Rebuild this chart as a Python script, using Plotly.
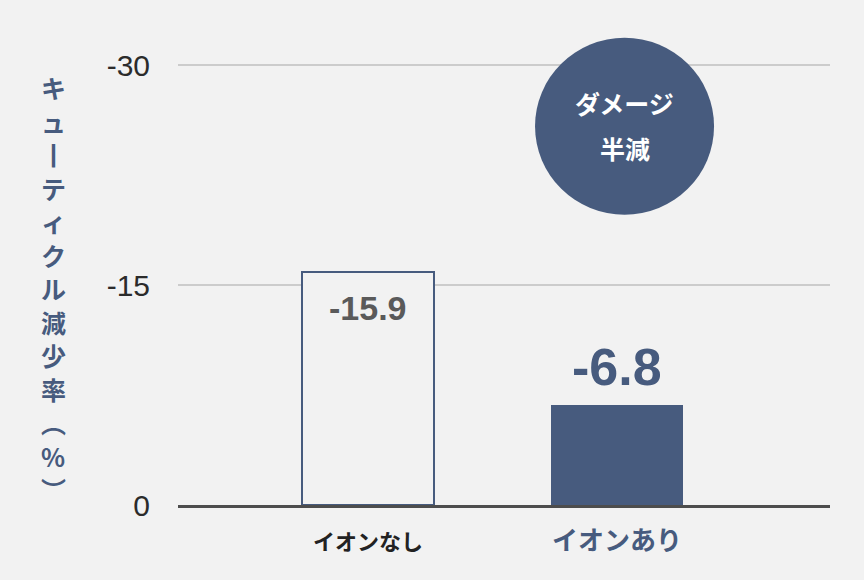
import plotly.graph_objects as go

categories = ["イオンなし", "イオンあり"]
values = [-15.9, -6.8]
value_labels = ["-15.9", "-6.8"]
y_ticks = [-30, -15, 0]
y_tick_labels = ["-30", "-15", "0"]
y_title = "キュ丨ティクル減少率︵%︶"
badge_lines = ["ダメージ", "半減"]

NAVY = "#475b7e"
BG = "#f2f2f2"
JP = "Noto Sans CJK JP"
NUM = "Liberation Sans, Arial, sans-serif"

fig = go.Figure()
fig.add_trace(go.Bar(
    x=[0], y=[values[0]], width=0.53,
    marker=dict(color=BG, line=dict(color=NAVY, width=2)),
    hoverinfo="skip", showlegend=False,
))
fig.add_trace(go.Bar(
    x=[1], y=[values[1]], width=0.53,
    marker=dict(color=NAVY, line=dict(color=NAVY, width=0)),
    hoverinfo="skip", showlegend=False,
))

# value labels
fig.add_annotation(x=0, y=values[0], text="<b>" + value_labels[0] + "</b>", showarrow=False,
                   yanchor="middle", yshift=-36,
                   font=dict(family=NUM, size=34, color="#5a5a5a"))
fig.add_annotation(x=1, y=values[1], text="<b>" + value_labels[1] + "</b>", showarrow=False,
                   yanchor="middle", yshift=38,
                   font=dict(family=NUM, size=52, color=NAVY))

# badge circle
fig.add_shape(type="circle", xref="x", yref="y",
              xsizemode="pixel", ysizemode="pixel",
              xanchor=1.03, yanchor=-25.84,
              x0=-89.5, x1=89.5, y0=-88.5, y1=88.5,
              fillcolor=NAVY, line=dict(width=0), layer="above")
fig.add_annotation(x=1.03, y=-25.84, text="<b>" + badge_lines[0] + "</b>", showarrow=False,
                   yshift=23, font=dict(family=JP, size=25, color="white"))
fig.add_annotation(x=1.03, y=-25.84, text="<b>" + badge_lines[1] + "</b>", showarrow=False,
                   yshift=-22, font=dict(family=JP, size=25, color="white"))

# vertical y-axis title (one upright character per line)
start_y = 87
step = 33.5
for i, ch in enumerate(y_title):
    yy = start_y + i * step
    fig.add_annotation(xref="paper", yref="paper",
                       x=(53 - 178) / 652, y=(580 - 75 - yy) / 469,
                       text="<b>" + ch + "</b>", showarrow=False,
                       xanchor="center", yanchor="middle",
                       font=dict(family=JP, size=25, color=NAVY))

fig.update_layout(
    width=864, height=580,
    margin=dict(l=178, r=34, t=36, b=75),
    paper_bgcolor=BG, plot_bgcolor=BG,
    bargap=0,
    xaxis=dict(
        range=[-0.763, 1.855],
        tickvals=[0, 1],
        ticktext=[
            "<b><span style='color:#222222;font-size:22px'>" + categories[0] + "</span></b>",
            "<b><span style='color:" + NAVY + ";font-size:26px'>" + categories[1] + "</span></b>",
        ],
        tickfont=dict(family=JP, size=22, color="#222222"),
        showgrid=False, zeroline=False,
        showline=True, linecolor="#4d4d4d", linewidth=3,
        ticks="outside", ticklen=16, tickcolor="rgba(0,0,0,0)",
        fixedrange=True,
    ),
    yaxis=dict(
        range=[0, -32],
        tickvals=y_ticks, ticktext=y_tick_labels,
        tickfont=dict(family=NUM, size=30, color="#2b2b2b"),
        showgrid=True, gridcolor="#cccccc", gridwidth=2,
        zeroline=False, showline=False,
        ticks="outside", ticklen=21, tickcolor="rgba(0,0,0,0)",
        fixedrange=True,
    ),
)

fig.write_html("out.html", config={"displayModeBar": False},
               post_script="document.body.style.margin='0';document.body.style.padding='0';")
